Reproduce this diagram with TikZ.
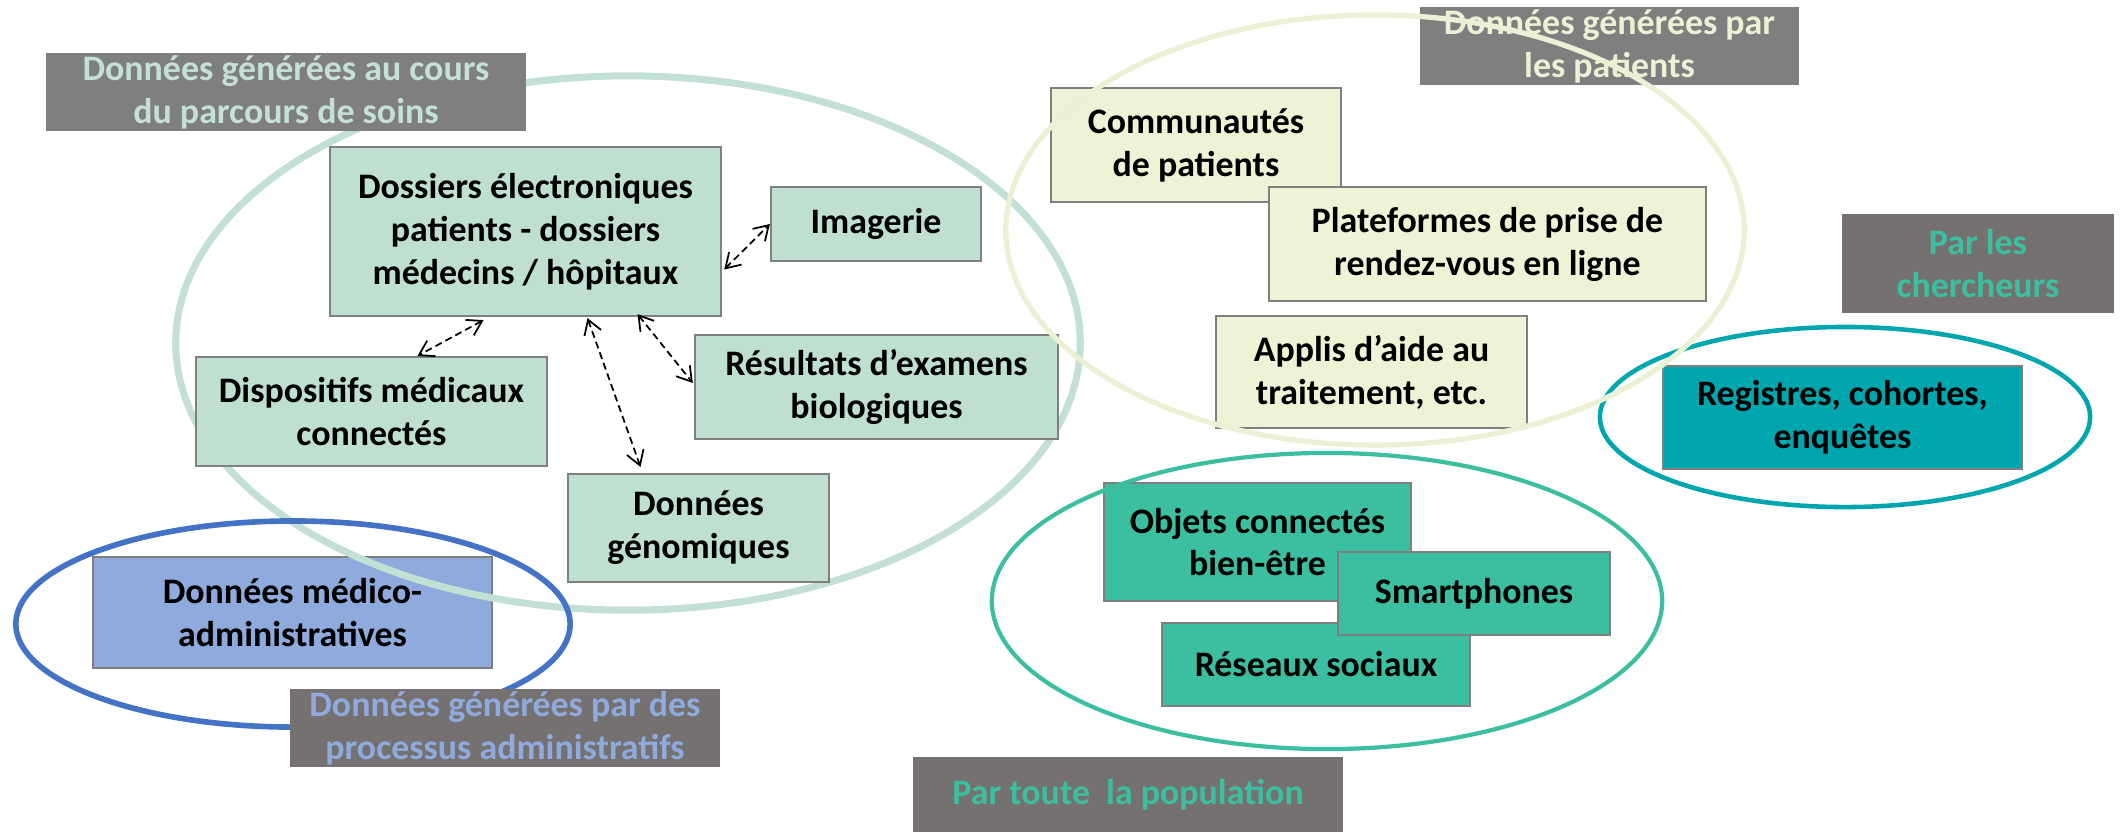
\documentclass[tikz,border=0pt]{standalone}
\usepackage{fontspec}
\setmainfont{Carlito}
\usetikzlibrary{arrows.meta,calc}
\definecolor{careF}{HTML}{BFDFD1}
\definecolor{careE}{HTML}{C2E1D4}
\definecolor{patF}{HTML}{EEF3D6}
\definecolor{patE}{HTML}{EBF1D4}
\definecolor{resF}{HTML}{00A6AE}
\definecolor{popF}{HTML}{3CBFA0}
\definecolor{medF}{HTML}{8FAADC}
\definecolor{blueE}{HTML}{4472C4}
\definecolor{grayA}{HTML}{7F7F7F}
\definecolor{grayB}{HTML}{767171}
\definecolor{boxgray}{HTML}{7F7F7F}
\definecolor{titleAtext}{HTML}{C5E0D5}
\begin{document}
\begin{tikzpicture}[x=0.01cm,y=-0.01cm,
  txt/.style={font=\bfseries\fontsize{10.2}{12.2}\selectfont},
  box/.style={txt, draw=boxgray, line width=0.6pt, inner sep=0pt, align=center, text=black},
  ttl/.style={txt, inner sep=0pt, align=center},
  link/.style={draw=black, line width=0.5pt, dash pattern=on 2pt off 1.2pt, {Straight Barb[length=4pt,width=5pt]}-{Straight Barb[length=4pt,width=5pt]}},
  grp/.style={line width=#1},
]
\useasboundingbox (0,0) rectangle (2123,832);

% --- administrative
\node[box, fill=medF, minimum width=3.99cm, minimum height=1.11cm] (med) at (292.5,612.5) {Données médico-\\administratives};

% --- care pathway ellipse
\draw[careE, grp=2pt] (628,343) ellipse [x radius=4.52cm, y radius=2.67cm];
\draw[blueE, grp=1.6pt] (293,624) ellipse [x radius=2.77cm, y radius=1.03cm];
\node[ttl, fill=grayB, text=medF, minimum width=4.30cm, minimum height=0.78cm] (tD) at (505,728) {Données générées par des\\processus administratifs};

% --- care boxes
\node[box, fill=careF, minimum width=3.91cm, minimum height=1.69cm] (dos) at (525.5,231.5) {Dossiers électroniques\\patients - dossiers\\médecins / hôpitaux};
\node[box, fill=careF, minimum width=2.10cm, minimum height=0.74cm] (img) at (876,224) {Imagerie};
\node[box, fill=careF, minimum width=3.51cm, minimum height=1.09cm] (dis) at (371.5,411.5) {Dispositifs médicaux\\connectés};
\node[box, fill=careF, minimum width=3.63cm, minimum height=1.04cm] (res) at (876.5,387) {Résultats d’examens\\biologiques};
\node[box, fill=careF, minimum width=2.61cm, minimum height=1.08cm] (gen) at (698.5,528) {Données\\génomiques};
\node[ttl, fill=grayA, text=titleAtext, minimum width=4.80cm, minimum height=0.78cm] (tA) at (286,92) {Données générées au cours\\du parcours de soins};

% --- links
\draw[link] ($(dos.east)+(2,38)$) -- (img.west);
\draw[link] ($(dos.south)+(-42,3)$) -- ($(dis.north)+(46,0)$);
\draw[link] ($(dos.south)+(62,1)$) -- ($(gen.north)+(-58,-6)$);
\draw[link] ($(dos.south)+(112,-3)$) -- ($(res.west)+(-1,-4)$);

% --- researchers
\draw[resF, grp=1.3pt] (1845,417) ellipse [x radius=2.45cm, y radius=0.90cm];
\node[box, fill=resF, minimum width=3.59cm, minimum height=1.03cm] (reg) at (1842.5,417.5) {Registres, cohortes,\\enquêtes};
\node[ttl, fill=grayB, text=popF, minimum width=2.72cm, minimum height=0.99cm] (tC) at (1978,263.5) {Par les\\chercheurs};

% --- patients
\node[box, fill=patF, minimum width=2.90cm, minimum height=1.14cm] (com) at (1196,145) {Communautés\\de patients};
\node[box, fill=patF, minimum width=4.37cm, minimum height=1.14cm] (pla) at (1487.5,244) {Plateformes de prise de\\rendez-vous en ligne};
\node[box, fill=patF, minimum width=3.11cm, minimum height=1.12cm] (app) at (1371.5,372) {Applis d’aide au\\traitement, etc.};
\node[ttl, fill=grayA, text=patE, minimum width=3.79cm, minimum height=0.78cm] (tB) at (1609.5,46) {Données générées par\\les patients};
\draw[patE, grp=1.5pt] (1375,230) ellipse [x radius=3.69cm, y radius=2.15cm];

% --- population
\node[box, fill=popF, minimum width=3.07cm, minimum height=1.18cm] (obj) at (1257.5,542) {Objets connectés\\bien-être};
\node[box, fill=popF, minimum width=3.08cm, minimum height=0.83cm] (rsx) at (1316,664.5) {Réseaux sociaux};
\node[box, fill=popF, minimum width=2.72cm, minimum height=0.83cm] (sma) at (1474,593.5) {Smartphones};
\draw[popF, grp=1.2pt] (1327,601) ellipse [x radius=3.35cm, y radius=1.48cm];
\node[ttl, fill=grayB, text=popF, minimum width=4.30cm, minimum height=0.75cm] (tE) at (1128,794.5) {Par toute\ \ la population};
\end{tikzpicture}
\end{document}
